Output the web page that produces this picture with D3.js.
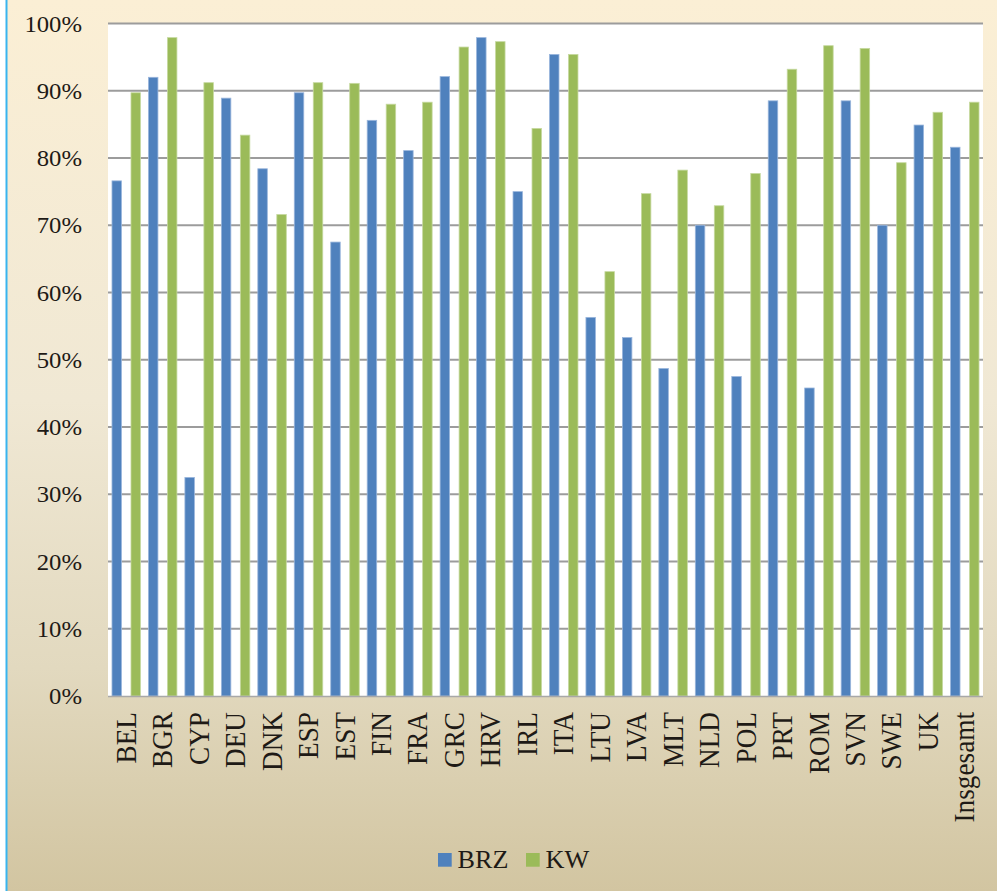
<!DOCTYPE html>
<html>
<head>
<meta charset="utf-8">
<script src="https://cdn.jsdelivr.net/npm/d3@7"></script>
<style>
  body { margin: 0; background: #fff; }
  text { font-family: "Liberation Serif", "DejaVu Serif", serif; fill: #1e1a16; }
</style>
</head>
<body>
<div id="chart-area"></div>
<script>
// data
var categories = ["BEL", "BGR", "CYP", "DEU", "DNK", "ESP", "EST", "FIN", "FRA", "GRC", "HRV", "IRL",
  "ITA", "LTU", "LVA", "MLT", "NLD", "POL", "PRT", "ROM", "SVN", "SWE", "UK", "Insgesamt"]
var brz = [76.6, 92.0, 32.5, 88.9, 78.4, 89.7, 67.5, 85.6, 81.1, 92.1, 97.9, 75.0,
  95.4, 56.3, 53.3, 48.7, 70.0, 47.5, 88.5, 45.8, 88.5, 70.0, 84.9, 81.6]
var kw = [89.7, 97.9, 91.2, 83.4, 71.6, 91.2, 91.1, 88.0, 88.3, 96.5, 97.3, 84.4,
  95.4, 63.1, 74.7, 78.2, 72.9, 77.7, 93.2, 96.7, 96.3, 79.3, 86.8, 88.3]
var seriesNames = ["BRZ", "KW"]
var yTicks = [0, 10, 20, 30, 40, 50, 60, 70, 80, 90, 100]

var width = 997
var height = 891
var plot = {left: 108, right: 983, top: 23.5, bottom: 696}
var squish = 0.94 // the picture is a bit flattened vertically

var colors = {BRZ: "#4f81bd", KW: "#9bbb59"}
var edges = {BRZ: "#9ab6dc", KW: "#c6d9a0"}

var svg = d3.select("#chart-area").append("svg")
  .attr("width", width)
  .attr("height", height)

var defs = svg.append("defs")
var grad = defs.append("linearGradient")
  .attr("id", "bg")
  .attr("x1", 0).attr("y1", 0).attr("x2", 0).attr("y2", 1)
grad.append("stop").attr("offset", "0%").attr("stop-color", "#fbefd5")
grad.append("stop").attr("offset", "45%").attr("stop-color", "#f0e8d4")
grad.append("stop").attr("offset", "75%").attr("stop-color", "#e2d9bf")
grad.append("stop").attr("offset", "100%").attr("stop-color", "#d2c5a1")

// background + left border
svg.append("rect")
  .attr("x", 7).attr("y", 0)
  .attr("width", width - 7).attr("height", height)
  .attr("fill", "url(#bg)")

svg.append("rect")
  .attr("x", 5.5).attr("y", 0)
  .attr("width", 2).attr("height", height)
  .attr("fill", "#38b4ef")

// plot area
svg.append("rect")
  .attr("x", plot.left).attr("y", plot.top)
  .attr("width", plot.right - plot.left).attr("height", plot.bottom - plot.top)
  .attr("fill", "#fff")

var y = d3.scaleLinear()
  .domain([0, 100])
  .range([plot.bottom, plot.top])

var x0 = d3.scaleBand()
  .domain(categories)
  .range([plot.left, plot.right])
  .padding(0)

var x1 = d3.scaleBand()
  .domain(seriesNames)
  .range([0, x0.bandwidth()])
  .paddingInner(0.5)
  .paddingOuter(0.21)

// gridlines
svg.append("g").selectAll("line")
  .data(yTicks.filter(d => d > 0))
  .enter().append("line")
  .attr("x1", plot.left).attr("x2", plot.right)
  .attr("y1", d => y(d)).attr("y2", d => y(d))
  .attr("stroke", "#9c9c9c")
  .attr("stroke-width", 2)

// Y labels
svg.append("g").selectAll("text")
  .data(yTicks)
  .enter().append("text")
  .attr("transform", d => "translate(82," + (y(d) + 8.2) + ") scale(1," + squish + ")")
  .attr("text-anchor", "end")
  .attr("font-size", "24.7px")
  .text(d => d + "%")

// bars
var rows = categories.map((c, i) => ({cat: c, values: [{key: "BRZ", v: brz[i]}, {key: "KW", v: kw[i]}]}))

var groups = svg.append("g").selectAll("g")
  .data(rows)
  .enter().append("g")
  .attr("transform", d => "translate(" + x0(d.cat) + ",0)")

groups.selectAll("rect")
  .data(d => d.values)
  .enter().append("rect")
  .attr("x", d => x1(d.key))
  .attr("y", d => y(d.v))
  .attr("width", x1.bandwidth())
  .attr("height", d => y(0) - y(d.v))
  .attr("fill", d => colors[d.key])
  .attr("stroke", d => edges[d.key])
  .attr("stroke-width", 0.8)

// x axis line
svg.append("line")
  .attr("x1", plot.left).attr("x2", plot.right)
  .attr("y1", plot.bottom + 0.5).attr("y2", plot.bottom + 0.5)
  .attr("stroke", "#a8a8a8")
  .attr("stroke-width", 1.5)

// X labels
svg.append("g").selectAll("text")
  .data(categories)
  .enter().append("text")
  .attr("transform", d => "translate(" + (x0(d) + x0.bandwidth() / 2 + 9.6) + ",712) scale(1," + squish + ") rotate(-90)")
  .attr("text-anchor", "end")
  .attr("font-size", "29px")
  .text(d => d)

// legend
var legendX = [438, 526]
var legend = svg.append("g")
seriesNames.forEach((s, i) => {
  legend.append("rect")
    .attr("x", legendX[i]).attr("y", 853)
    .attr("width", 13.7).attr("height", 13.7)
    .attr("fill", colors[s])

  legend.append("text")
    .attr("transform", "translate(" + (legendX[i] + 19.5) + ",868) scale(1," + squish + ")")
    .attr("font-size", "26.2px")
    .text(s)
})
</script>
</body>
</html>
